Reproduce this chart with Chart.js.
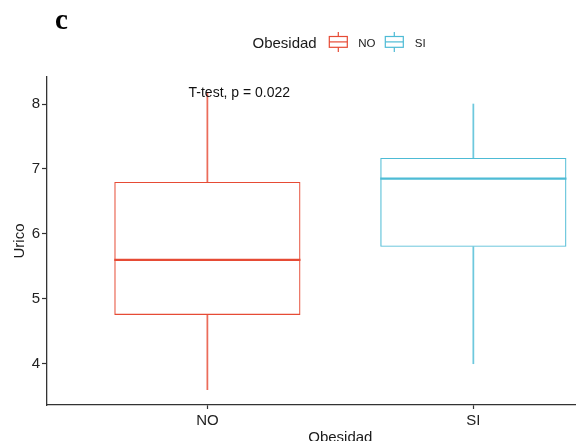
<!DOCTYPE html>
<html>
<head>
<meta charset="utf-8">
<script src="https://cdn.jsdelivr.net/npm/chart.js@4/dist/chart.umd.min.js"></script>
<style>
  html, body { margin: 0; padding: 0; background: #fff; }
  canvas { display: block; }
</style>
</head>
<body>
<canvas id="chart" width="576" height="441"></canvas>
<script>
// Uric acid by obesity group: box summaries
const categories = ['NO', 'SI'];
const whiskerLow = [3.60, 4.00];
const q1 = [4.75, 5.80];
const medians = [5.60, 6.85];
const q3 = [6.80, 7.17];
const whiskerHigh = [8.17, 8.00];
const yTicks = [4, 5, 6, 7, 8];
const groupColors = ['#E64B35', '#4DBBD5'];
const testLabel = 'T-test, p = 0.022';

const SANS = "'Liberation Sans', Arial, Helvetica, sans-serif";
const xPos = categories.map((_, i) => i + 1);

const boxData = xPos.map((x, i) => ({ x, y: [q1[i], q3[i]] }));
const upperWhisker = xPos.map((x, i) => ({ x, y: [q3[i], whiskerHigh[i]] }));
const lowerWhisker = xPos.map((x, i) => ({ x, y: [whiskerLow[i], q1[i]] }));

// medians, panel letter, legend, axis titles and the test annotation
const boxExtras = {
  id: 'boxExtras',
  afterDatasetsDraw(chart) {
    const ctx = chart.ctx;
    const y = chart.scales.y;
    const meta = chart.getDatasetMeta(0);
    ctx.save();
    meta.data.forEach((bar, i) => {
      const py = y.getPixelForValue(medians[i]);
      ctx.strokeStyle = groupColors[i];
      ctx.lineWidth = 2.4;
      ctx.beginPath();
      ctx.moveTo(bar.x - bar.width / 2, py);
      ctx.lineTo(bar.x + bar.width / 2, py);
      ctx.stroke();
    });
    ctx.restore();
  },
  afterDraw(chart) {
    const ctx = chart.ctx;
    const xs = chart.scales.x;
    const ys = chart.scales.y;
    ctx.save();
    ctx.fillStyle = '#000';

    // panel letter
    ctx.font = "bold 29px 'Liberation Serif', 'Times New Roman', serif";
    ctx.textAlign = 'left';
    ctx.textBaseline = 'alphabetic';
    ctx.fillText('c', 55, 28.5);

    // legend
    ctx.fillStyle = '#1a1a1a';
    ctx.font = '15px ' + SANS;
    ctx.fillText('Obesidad', 252.5, 48.3);
    const keys = [{ x: 329.3, lx: 358.3 }, { x: 385.3, lx: 414.8 }];
    keys.forEach((k, i) => {
      const w = 18, top = 36.5, bot = 47.3, cx = k.x + w / 2;
      ctx.strokeStyle = groupColors[i];
      ctx.lineWidth = 1.2;
      ctx.beginPath();
      ctx.moveTo(cx, 32); ctx.lineTo(cx, top);
      ctx.moveTo(cx, bot); ctx.lineTo(cx, 52);
      ctx.stroke();
      ctx.strokeRect(k.x, top, w, bot - top);
      ctx.beginPath();
      ctx.moveTo(k.x, (top + bot) / 2); ctx.lineTo(k.x + w, (top + bot) / 2);
      ctx.stroke();
      ctx.fillStyle = '#1a1a1a';
      ctx.font = '11.5px ' + SANS;
      ctx.fillText(categories[i], k.lx, 47.3);
    });

    // test annotation
    ctx.font = '14px ' + SANS;
    ctx.textAlign = 'center';
    ctx.fillStyle = '#111';
    ctx.fillText(testLabel, xs.getPixelForValue(1.12), ys.getPixelForValue(8.108));

    // axis titles
    ctx.font = '15px ' + SANS;
    ctx.fillStyle = '#1a1a1a';
    ctx.fillText('Obesidad', xs.getPixelForValue(1.5), 442);
    ctx.save();
    ctx.translate(24, (chart.chartArea.top + chart.chartArea.bottom) / 2);
    ctx.rotate(-Math.PI / 2);
    ctx.fillText('Urico', 0, 0);
    ctx.restore();

    ctx.restore();
  }
};

new Chart(document.getElementById('chart'), {
  type: 'bar',
  data: {
    datasets: [
      {
        data: boxData,
        backgroundColor: 'rgba(255,255,255,0)',
        borderColor: groupColors,
        borderWidth: 1.2,
        borderSkipped: false,
        grouped: false,
        categoryPercentage: 0.7,
        barPercentage: 1.0
      },
      {
        data: upperWhisker,
        backgroundColor: groupColors.map(c => c + 'D0'),
        borderWidth: 0,
        grouped: false,
        barThickness: 1.1
      },
      {
        data: lowerWhisker,
        backgroundColor: groupColors.map(c => c + 'D0'),
        borderWidth: 0,
        grouped: false,
        barThickness: 1.1
      }
    ]
  },
  options: {
    responsive: false,
    animation: false,
    events: [],
    layout: { padding: { top: 77, left: 0, right: 0, bottom: 0 } },
    plugins: {
      legend: { display: false },
      tooltip: { enabled: false }
    },
    scales: {
      x: {
        type: 'linear',
        offset: false,
        min: 0.397,
        max: 2.386,
        afterFit: s => { s.height = 36; },
        afterBuildTicks: s => { s.ticks = xPos.map(v => ({ value: v })); },
        grid: {
          offset: false,
          drawOnChartArea: false,
          drawTicks: true,
          tickLength: 4,
          tickColor: '#333',
          tickWidth: 1.2
        },
        border: { display: true, color: '#333', width: 1.3 },
        ticks: {
          padding: 3,
          color: '#222',
          font: { family: SANS, size: 15 },
          maxRotation: 0,
          callback: (v, i) => categories[i]
        }
      },
      y: {
        type: 'linear',
        min: 3.364,
        max: 8.416,
        afterFit: s => { s.width = 47; },
        afterBuildTicks: s => { s.ticks = yTicks.map(v => ({ value: v })); },
        grid: {
          drawOnChartArea: false,
          drawTicks: true,
          tickLength: 5,
          tickColor: '#333',
          tickWidth: 1.2
        },
        border: { display: true, color: '#333', width: 1.3 },
        ticks: {
          padding: 2,
          color: '#222',
          font: { family: SANS, size: 15 },
          callback: v => String(v)
        }
      }
    }
  },
  plugins: [boxExtras]
});
</script>
</body>
</html>
